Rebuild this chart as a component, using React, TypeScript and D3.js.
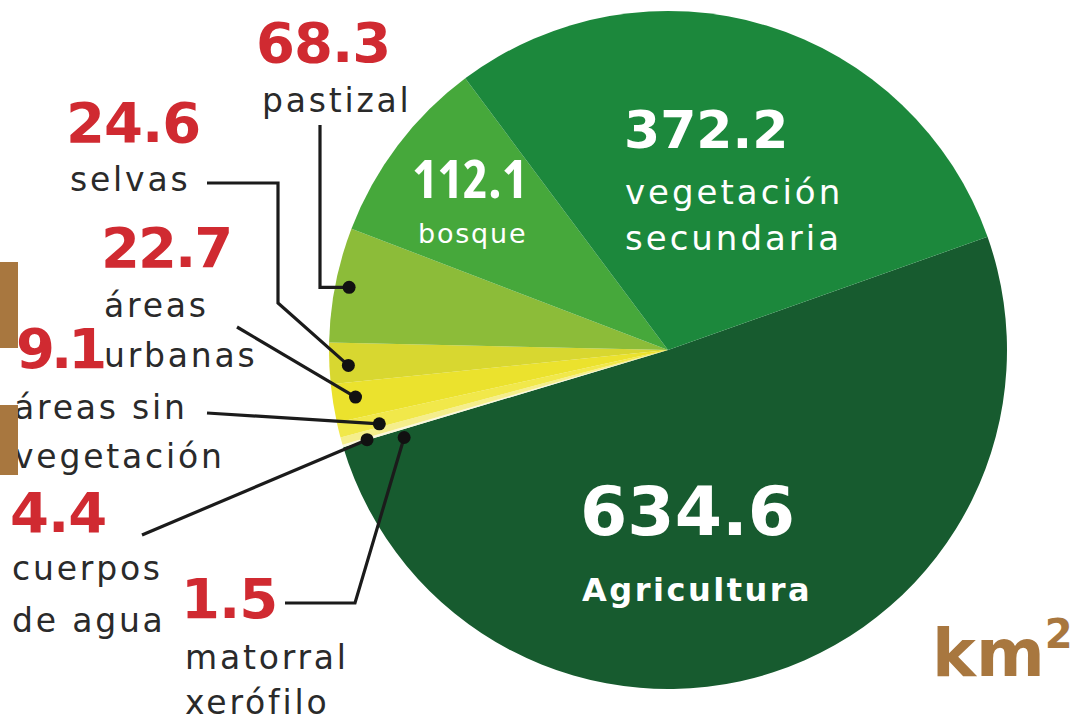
import * as d3 from 'd3';

// superficie por uso de suelo, km2
const categories = [
    'Agricultura',
    'matorral xerófilo',
    'cuerpos de agua',
    'áreas sin vegetación',
    'áreas urbanas',
    'selvas',
    'pastizal',
    'bosque',
    'vegetación secundaria',
];
const values = [634.6, 1.5, 4.4, 9.1, 22.7, 24.6, 68.3, 112.1, 372.2];
const valueLabels = ['634.6', '1.5', '4.4', '9.1', '22.7', '24.6', '68.3', '112.1', '372.2'];
const colors = ['#175b2f', '#fbf8dc', '#f5ee8c', '#f1e84a', '#ebe22d', '#d8d730', '#8cbc39', '#46a83b', '#1c883c'];

// outside labels: name lines + position of the red number
const outside = [
    { i: 6, num: [256, 62], ls: 0, lines: ['pastizal'], lx: 262, ly: 112, gap: 50, lead: [[320, 125], [320, null]], rDot: 325, nudge: 0 },
    { i: 5, num: [66, 142], ls: 0, lines: ['selvas'], lx: 70, ly: 191, gap: 50, lead: [[207, 183], [278, 183], [278, 303]], rDot: 320, nudge: -0.5 },
    { i: 4, num: [101, 267], ls: -1, lines: ['áreas', 'urbanas'], lx: 104, ly: 317, gap: 50, lead: [[237, 327]], rDot: 316, nudge: 0.5 },
    { i: 3, num: [16, 368], ls: -3, lines: ['áreas sin', 'vegetación'], lx: 14, ly: 419, gap: 49, lead: [[207, 413]], rDot: 298, nudge: -0.7 },
    { i: 2, num: [10, 532], ls: 0, lines: ['cuerpos', 'de agua'], lx: 12, ly: 580, gap: 52, lead: [[142, 535]], rDot: 314, nudge: -1 },
    { i: 1, num: [181, 618], ls: 0, lines: ['matorral', 'xerófilo'], lx: 185, ly: 669, gap: 45, lead: [[285, 603], [355, 603]], rDot: 278, nudge: -1.9 },
];

const cx = 668;
const cy = 350;
const radius = 339;
const numFont = '"DejaVu Sans", sans-serif';
const labelFont = '"DejaVu Sans", sans-serif';

const App = () => {
    const pie = d3.pie<number>()
        .sort(null)
        .startAngle((70.5 * Math.PI) / 180)
        .endAngle((70.5 * Math.PI) / 180 + 2 * Math.PI);
    const arcs = pie(values);
    const arc = d3.arc<d3.PieArcDatum<number>>().innerRadius(0).outerRadius(radius);

    const dotAt = (idx: number, r: number, nudge: number) => {
        const a = (arcs[idx].startAngle + arcs[idx].endAngle) / 2 + (nudge * Math.PI) / 180;
        return [cx + r * Math.sin(a), cy - r * Math.cos(a)];
    };

    return (
        <svg width={1084} height={725} style={{ position: 'absolute', left: 0, top: 0, background: '#fff' }}>
            <g transform={`translate(${cx},${cy})`}>
                {arcs.map((d, k) => (
                    <path key={categories[k]} d={arc(d) || ''} fill={colors[k]} />
                ))}
            </g>

            {/* inside labels */}
            <g fill="#fff">
                <text x={412} y={198} fontFamily='"Open Sans", sans-serif' fontSize={54} fontWeight={700} style={{ fontStretch: 'condensed' }}>{valueLabels[7]}</text>
                <text x={418} y={243} fontFamily={labelFont} fontSize={27} letterSpacing={1.8}>{categories[7]}</text>
                <text x={624} y={148} fontFamily={numFont} fontSize={52} fontWeight={700}>{valueLabels[8]}</text>
                <text x={625} y={204} fontFamily={labelFont} fontSize={34} letterSpacing={3}>vegetación</text>
                <text x={625} y={250} fontFamily={labelFont} fontSize={34} letterSpacing={3}>secundaria</text>
                <text x={580} y={535} fontFamily={numFont} fontSize={68} fontWeight={700}>{valueLabels[0]}</text>
                <text x={582} y={601} fontFamily={numFont} fontSize={32} fontWeight={700} letterSpacing={2.5}>{categories[0]}</text>
            </g>

            {/* leaders */}
            {outside.map(o => {
                const [dx, dy] = dotAt(o.i, o.rDot, o.nudge);
                const pts = o.lead.map(p => [p[0], p[1] === null ? dy : p[1]]).concat([[dx, dy]]);
                return (
                    <g key={o.i}>
                        <path d={d3.line()(pts as [number, number][]) || ''} fill="none" stroke="#1b1b1b" strokeWidth={3.2} />
                        <circle cx={dx} cy={dy} r={6.5} fill="#111" />
                    </g>
                );
            })}

            {/* outside labels */}
            {outside.map(o => (
                <g key={o.i}>
                    <text x={o.num[0]} y={o.num[1]} fill="#d02a31" fontFamily={numFont} fontSize={56} fontWeight={700} letterSpacing={o.ls - 1}>{valueLabels[o.i]}</text>
                    {o.lines.map((ln, j) => (
                        <text key={j} x={o.lx} y={o.ly + j * o.gap} fill="#2a2a2a" fontFamily={labelFont} fontSize={33} letterSpacing={2.8}>{ln}</text>
                    ))}
                </g>
            ))}

            {/* cut-off boxes at the left edge */}
            <rect x={0} y={262} width={18} height={86} fill="#a8773f" />
            <rect x={0} y={405} width={18} height={70} fill="#a8773f" />

            <text x={932} y={676} fill="#a8773f" fontFamily={numFont} fontSize={66} fontWeight={700}>
                km<tspan dy={-28} fontSize={40}>2</tspan>
            </text>
        </svg>
    );
};

export default App;
